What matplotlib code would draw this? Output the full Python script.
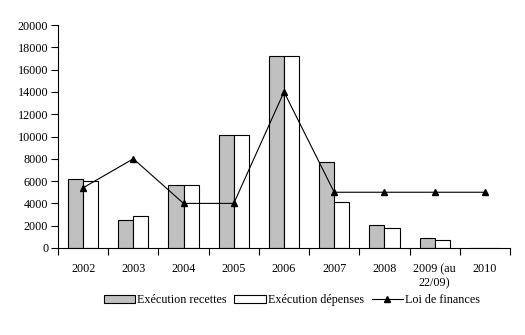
import numpy as np
import matplotlib
matplotlib.use("Agg")
import matplotlib.pyplot as plt
from matplotlib.ticker import FixedLocator, NullFormatter

plt.rcParams['font.family'] = ['Liberation Serif', 'DejaVu Serif']

years = ["2002", "2003", "2004", "2005", "2006", "2007", "2008", "2009 (au\n22/09)", "2010"]
recettes = [6150, 2550, 5650, 10100, 17200, 7700, 2100, 870, 0]
depenses = [6000, 2850, 5650, 10100, 17200, 4100, 1750, 700, 0]
loi_finances = [5400, 8000, 4000, 4000, 14000, 5000, 5000, 5000, 5000]

fs = 8.7

fig = plt.figure(figsize=(5.25, 3.35), dpi=100)
ax = fig.add_axes([58 / 525, 87 / 335, 452 / 525, 223 / 335])

x = np.arange(len(years))
w = 0.3
b1 = ax.bar(x - w / 2, recettes, w, color='#c0c0c0', edgecolor='black', linewidth=0.8,
            label='Exécution recettes')
b2 = ax.bar(x + w / 2, depenses, w, color='white', edgecolor='black', linewidth=0.8,
            label='Exécution dépenses')
l1, = ax.plot(x, loi_finances, color='black', linewidth=0.8, marker='^', markersize=5,
              label='Loi de finances')

ax.set_xlim(-0.5, len(years) - 0.5)
ax.set_ylim(0, 20000)
ax.set_yticks(range(0, 20001, 2000))

# category boundaries carry the tick marks, labels sit in the middle
ax.xaxis.set_major_locator(FixedLocator(np.arange(-0.5, len(years))))
ax.xaxis.set_major_formatter(NullFormatter())
ax.set_xticks(x, minor=True)
ax.set_xticklabels(years, minor=True, va='top')
ax.tick_params(axis='x', which='minor', length=0, pad=11, labelsize=fs)
ax.tick_params(axis='x', which='major', length=5, direction='out', width=0.8)
ax.tick_params(axis='y', length=5, direction='out', width=0.8, labelsize=fs, pad=2)

for side in ('top', 'right'):
    ax.spines[side].set_visible(False)
for side in ('left', 'bottom'):
    ax.spines[side].set_linewidth(0.8)

fig.legend(handles=[b1, b2, l1], loc='center', bbox_to_anchor=(292 / 525, 35 / 335), ncol=3,
           frameon=False, fontsize=fs, handlelength=2.6, handleheight=0.6,
           handletextpad=0.2, columnspacing=0.6)

fig.savefig('out.png', dpi=100)
